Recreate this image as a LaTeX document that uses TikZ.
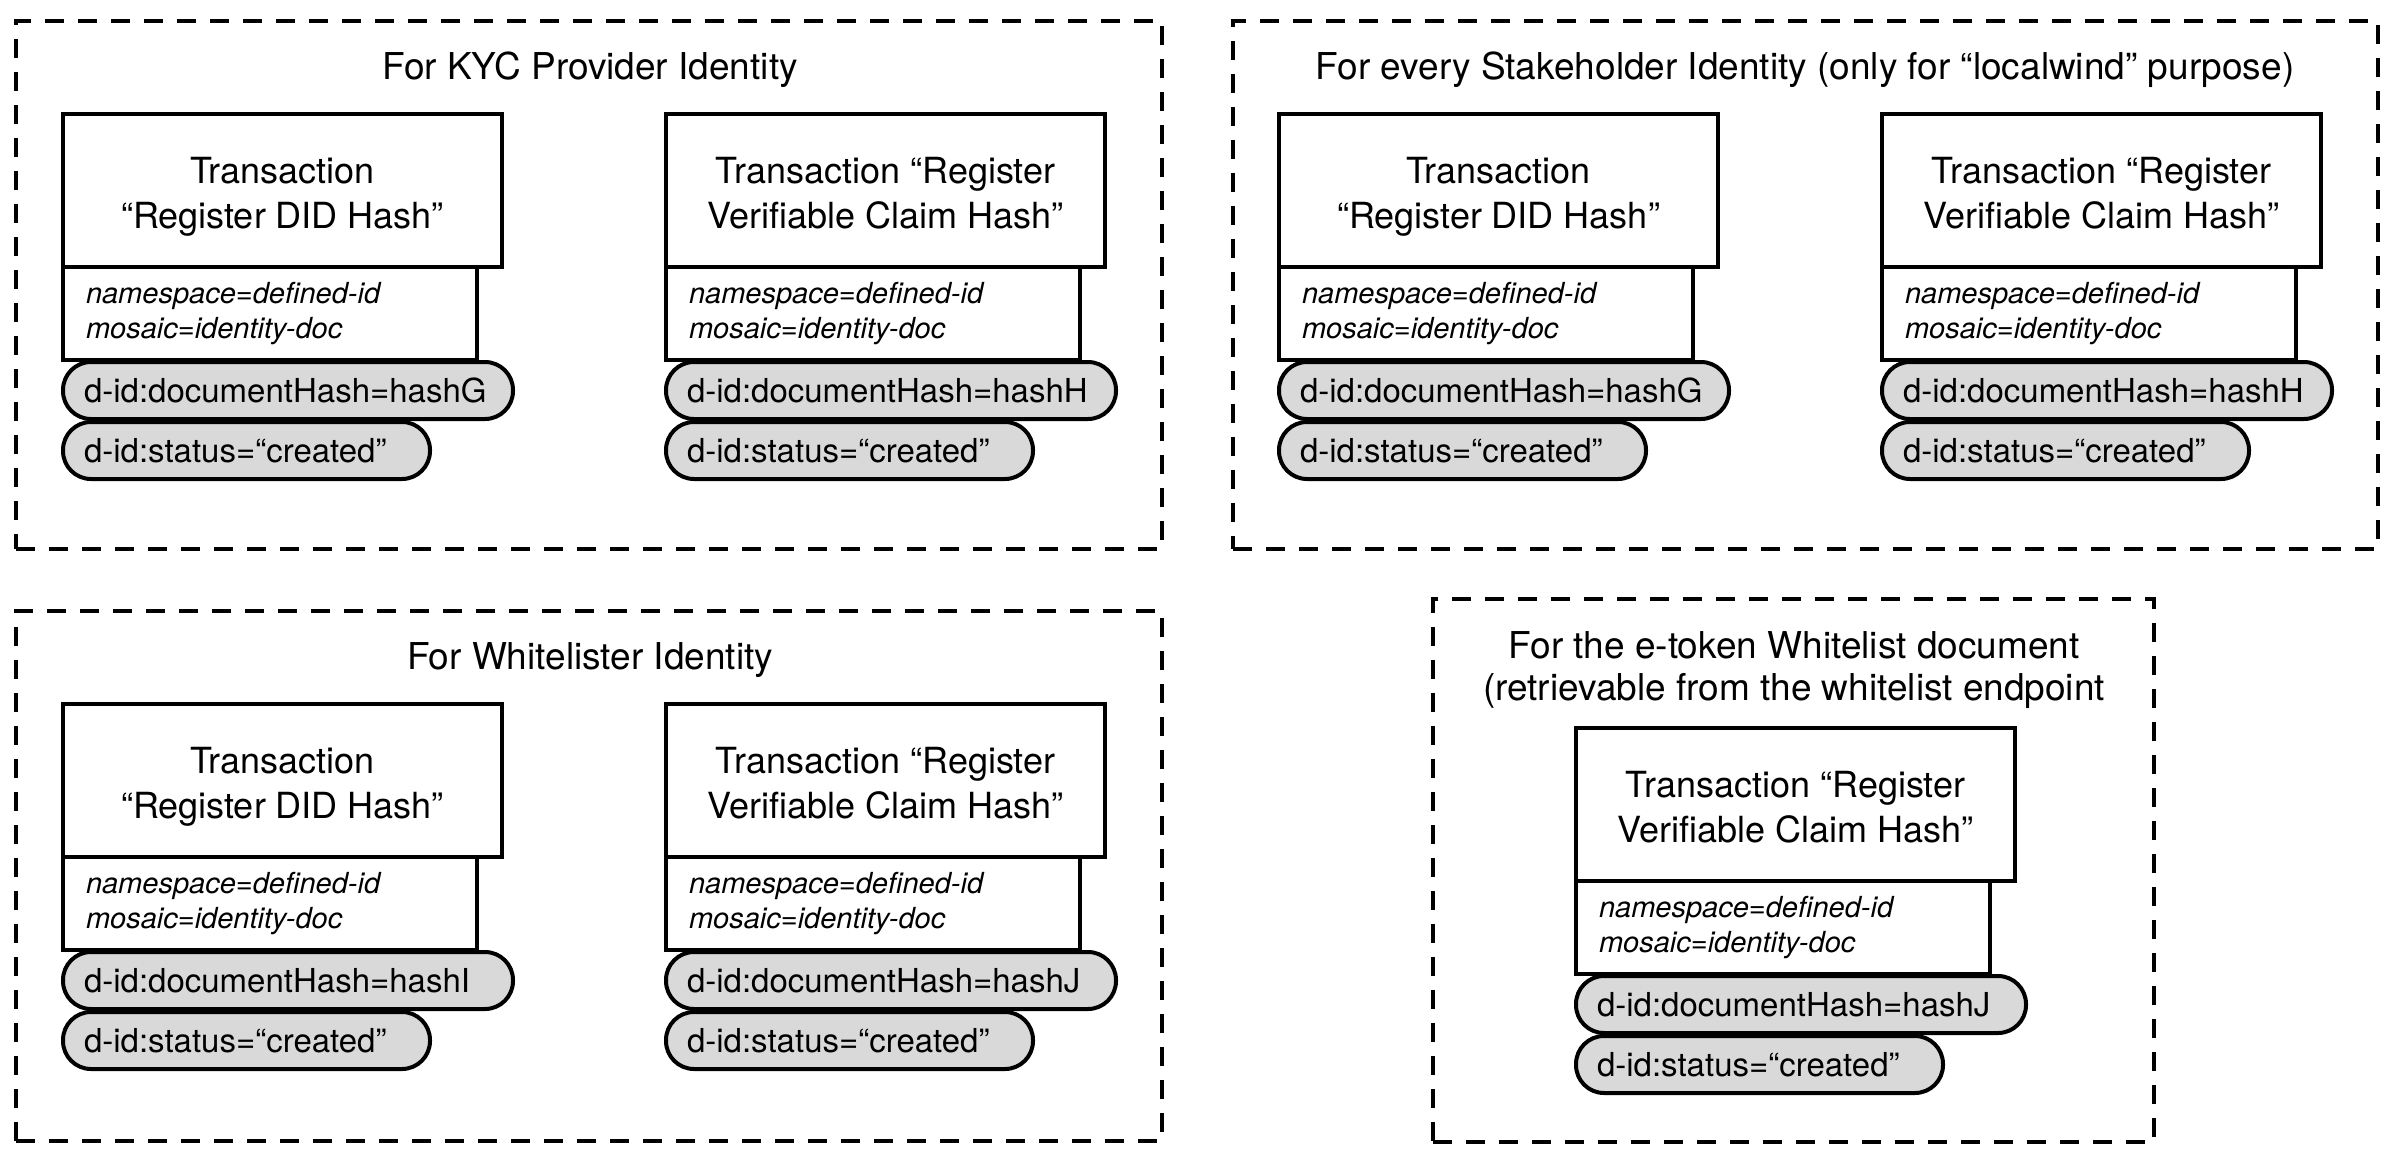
\documentclass[tikz,border=0pt]{standalone}
\usepackage{fontspec}
\setmainfont{TeX Gyre Heros}
\definecolor{pillgray}{RGB}{217,217,217}
\newcommand\hdtop{\rule{0pt}{38pt}}
\newcommand\hdbot{\rule[-8pt]{0pt}{8pt}}
\tikzset{
  framebox/.style={draw, line width=4pt, dash pattern=on 19pt off 14pt, anchor=north west, inner sep=0pt, outer sep=0pt},
  hdrbox/.style={draw, line width=4pt, fill=white, anchor=north west, minimum width=439pt, minimum height=153pt, align=center, inner sep=0pt, outer sep=0pt, font=\fontsize{36}{45}\selectfont},
  subbox/.style={draw, line width=4pt, fill=white, anchor=north west, minimum width=414pt, minimum height=93pt, text width=368pt, align=left, inner xsep=23pt, inner ysep=0pt, outer sep=0pt, font=\fontsize{29}{35}\selectfont\itshape},
  pillA/.style={draw, line width=4pt, fill=pillgray, rounded corners=28pt, anchor=north west, minimum width=450pt, minimum height=57pt, text width=408pt, align=left, inner xsep=21pt, inner ysep=0pt, outer sep=0pt, font=\fontsize{33}{40}\selectfont},
  pillB/.style={pillA, minimum width=367pt, text width=325pt},
  ttl/.style={anchor=base, inner sep=0pt, outer sep=0pt, font=\fontsize{37}{42}\selectfont},
  ttltwo/.style={anchor=north, inner sep=0pt, outer sep=0pt, align=center, font=\fontsize{37}{42}\selectfont},
}
\newcommand\txgroup[5]{%
  \node[hdrbox] (#1h) at (#2,#3) {#4};
  \node[subbox] (#1s) at (#1h.south west) {namespace=defined-id\\mosaic=identity-doc};
  \node[pillA, yshift=-2pt] (#1p) at (#1s.south west) {d-id:documentHash=#5};
  \node[pillB, yshift=-3pt] (#1q) at (#1p.south west) {d-id:status=“created”};
}
\begin{document}
\begin{tikzpicture}[x=1pt,y=-1pt]
\useasboundingbox (0,0) rectangle (2401,1162);
% frames
\node[framebox, minimum width=1146pt, minimum height=528pt] (kycf) at (16,21) {};
\node[framebox, minimum width=1145pt, minimum height=528pt] (stkf) at (1233,21) {};
\node[framebox, minimum width=1146pt, minimum height=530pt] (whlf) at (16,611) {};
\node[framebox, minimum width=721pt, minimum height=543pt] (etkf) at (1433,599) {};
% titles
\node[ttl] (kyct) at (590,79) {For KYC Provider Identity};
\node[ttl] (stkt) at (1805,79) {For every Stakeholder Identity (only for “localwind” purpose)};
\node[ttl] (whlt) at (590,669) {For Whitelister Identity};
\node[ttltwo] (etkt) at (1794,632) {For the e-token Whitelist document\\(retrievable from the whitelist endpoint};
% groups
\txgroup{kd}{63}{114}{\hdtop Transaction\\“Register DID Hash”\hdbot}{hashG}
\txgroup{kv}{666}{114}{\hdtop Transaction “Register\\Verifiable Claim Hash”\hdbot}{hashH}
\txgroup{sd}{1279}{114}{\hdtop Transaction\\“Register DID Hash”\hdbot}{hashG}
\txgroup{sv}{1882}{114}{\hdtop Transaction “Register\\Verifiable Claim Hash”\hdbot}{hashH}
\txgroup{wd}{63}{704}{\hdtop Transaction\\“Register DID Hash”\hdbot}{hashI}
\txgroup{wv}{666}{704}{\hdtop Transaction “Register\\Verifiable Claim Hash”\hdbot}{hashJ}
\txgroup{ev}{1576}{728}{\hdtop Transaction “Register\\Verifiable Claim Hash”\hdbot}{hashJ}
\end{tikzpicture}
\end{document}
